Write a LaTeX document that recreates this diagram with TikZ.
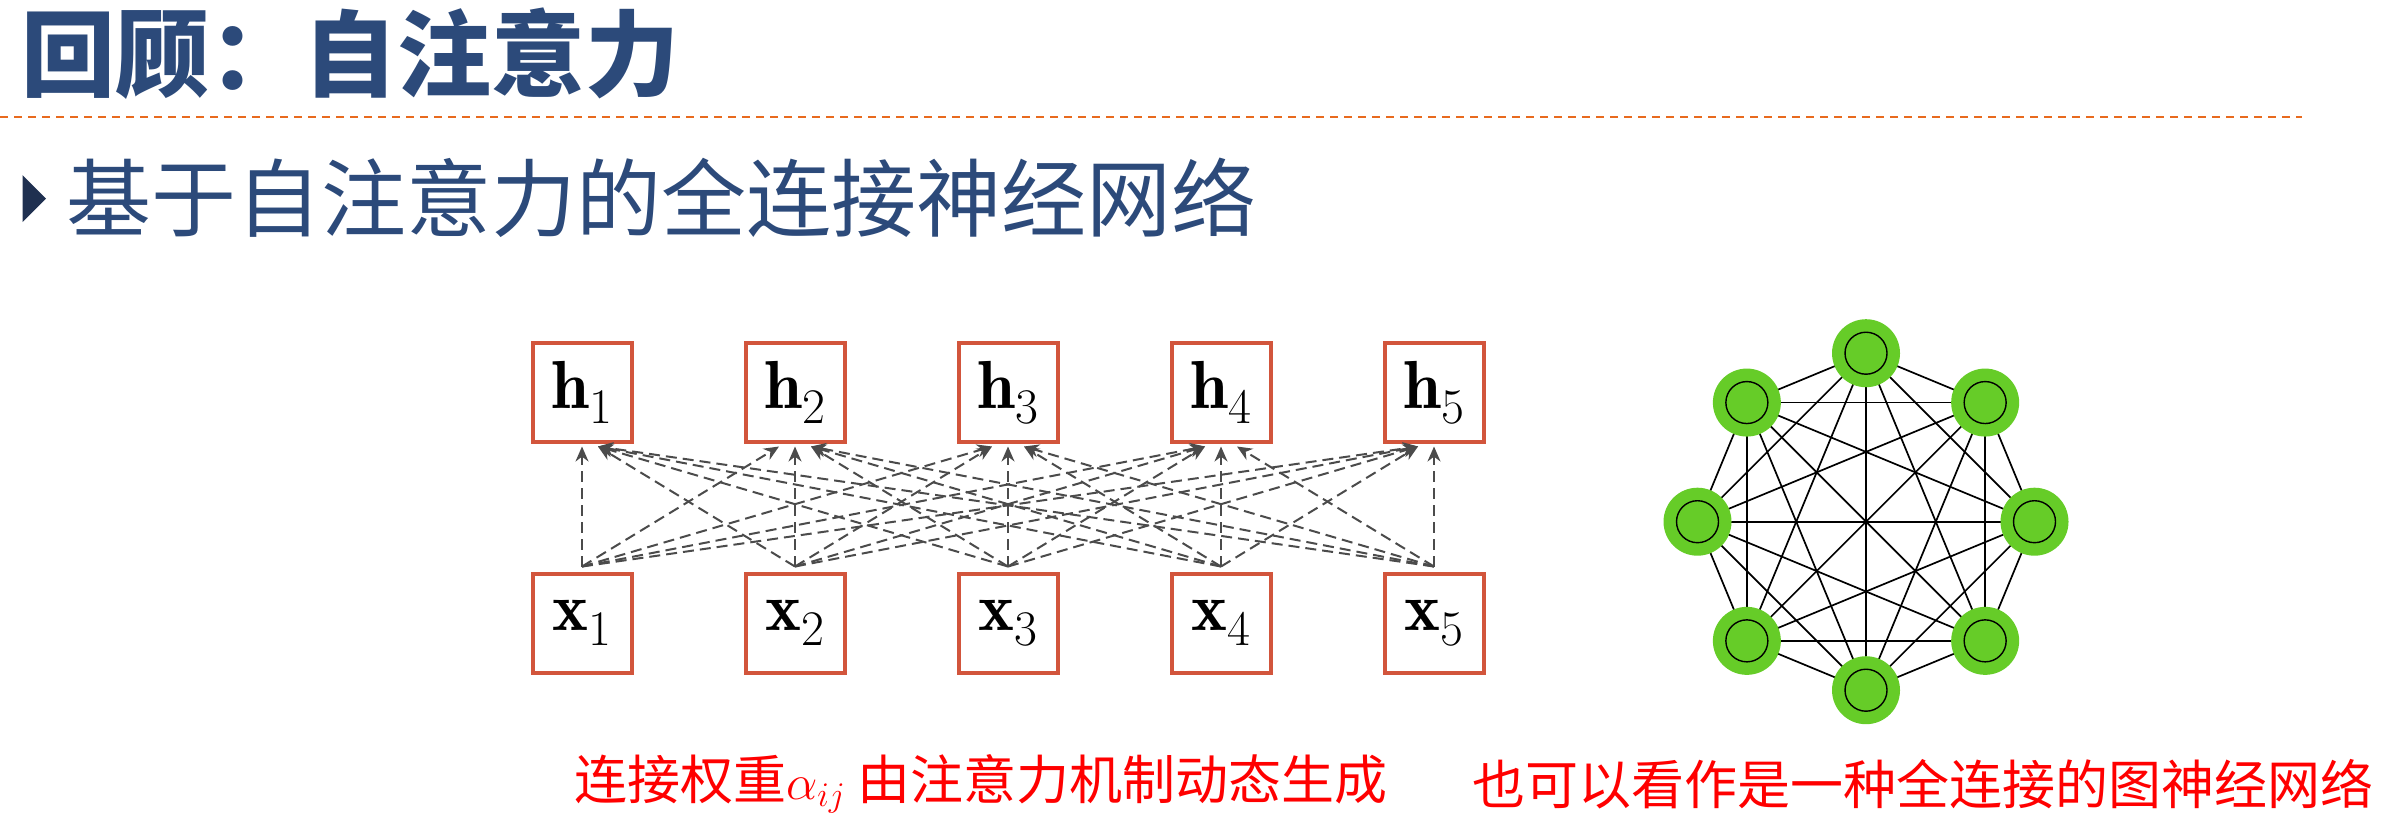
\documentclass[tikz,border=0pt]{standalone}
\usepackage{fontspec}
\usepackage{amsmath}
\newfontfamily\cjk{Noto Sans CJK SC}
\usetikzlibrary{arrows.meta,backgrounds,shapes.geometric}
\definecolor{titleblue}{RGB}{44,74,122}
\definecolor{bulletblue}{RGB}{31,48,80}
\definecolor{rulorange}{RGB}{232,106,30}
\definecolor{boxred}{RGB}{210,85,60}
\definecolor{arrowgray}{RGB}{75,75,75}
\definecolor{nodegreen}{RGB}{102,204,40}
\tikzset{
  vecbox/.style={draw=boxred, line width=2pt, minimum size=49.5pt, inner sep=0pt, fill=white,
    font=\fontsize{34}{40}\selectfont},
  att/.style={draw=arrowgray, line width=1pt, dash pattern=on 5.5pt off 3pt,
    -{Stealth[length=7.5pt,width=6.5pt]}},
  gouter/.style={circle, fill=nodegreen, minimum size=34pt, inner sep=0pt},
  ginner/.style={circle, draw=black, line width=0.7pt, fill=nodegreen, minimum size=21pt, inner sep=0pt},
  gedge/.style={draw=black, line width=0.85pt},
  redtext/.style={text=red, inner sep=0pt, anchor=west, font=\cjk\fontsize{26.5}{30}\selectfont}
}
\begin{document}
\begin{tikzpicture}[x=0.5pt,y=-0.5pt]
\useasboundingbox (0,0) rectangle (2381,814);
% title
\node[anchor=west, inner sep=0pt, text=titleblue, font=\cjk\bfseries\fontsize{47}{52}\selectfont] (title) at (21,54) {回顾：自注意力};
\coordinate (rl) at (0,117);
\coordinate (rr) at (2302,117);
\draw[rulorange, line width=1.3pt, dash pattern=on 4pt off 3pt] (rl) -- (rr);
% bullet + subtitle
\fill[bulletblue] (22.5,175) -- (46,198.5) -- (22.5,222) -- cycle;
\node[anchor=west, inner sep=0pt, text=titleblue, font=\cjk\fontsize{42.5}{50}\selectfont] (sub) at (66,198) {基于自注意力的全连接神经网络};
% left graph
\foreach \i in {1,...,5}{
  \node[vecbox] (h\i) at ({582+213*(\i-1)},392) {$\mathbf{h}_{\i}$};
  \node[vecbox] (x\i) at ({582+213*(\i-1)},623) {$\mathbf{x}_{\i}$};
}
\foreach \j in {1,...,5}{
  \foreach \i in {1,...,5}{
    \ifnum\i<\j \draw[att] ([yshift=2.5pt]x\j.north) -- ([xshift=8pt,yshift=-1.5pt]h\i.south); \fi
    \ifnum\i=\j \draw[att] ([yshift=2.5pt]x\j.north) -- ([yshift=-1.5pt]h\i.south); \fi
    \ifnum\i>\j \draw[att] ([yshift=2.5pt]x\j.north) -- ([xshift=-8pt,yshift=-1.5pt]h\i.south); \fi
  }
}
% right graph
\foreach \k/\a in {1/90,2/135,3/180,4/225,5/270,6/315,7/0,8/45}{
  \node[gouter] (g\k) at ({1866+168.5*cos(\a)},{521.7-168.5*sin(\a)}) {};
  \node[ginner] (gi\k) at (g\k) {};
}
\begin{scope}[on background layer]
\foreach \p in {1,...,7}{
  \pgfmathtruncatemacro{\q}{\p+1}
  \foreach \r in {\q,...,8}{
    \draw[gedge] (g\p.center) -- (g\r.center);
  }
}
\end{scope}
% captions
\node[redtext] (cap1) at (574,784) {连接权重$\alpha_{ij}$ 由注意力机制动态生成};
\node[redtext] (cap2) at (1472,784) {也可以看作是一种全连接的图神经网络};
\end{tikzpicture}
\end{document}
